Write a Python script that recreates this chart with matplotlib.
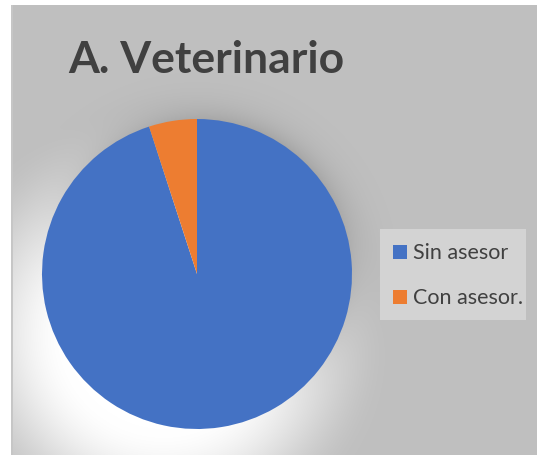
import numpy as np
import matplotlib
matplotlib.use("Agg")
import matplotlib.pyplot as plt
from matplotlib.patches import Rectangle

categories = ["Sin asesor", "Con asesor."]
values = [95, 5]
colors = ["#4472C4", "#ED7D31"]
title = "A. Veterinario"

W, H = 537, 456
fig = plt.figure(figsize=(W / 100, H / 100), dpi=100)
fig.patch.set_facecolor("white")

cx, cy, r = 197, 275, 155

# background with shadow / glow effect
bg = fig.add_axes([0, 0, 1, 1])
bg.set_xlim(0, W)
bg.set_ylim(H, 0)
bg.axis("off")
yy, xx = np.mgrid[0:H, 0:W] + 0.5
base = np.full((H, W), 192 / 255.0)
d = np.hypot(xx - cx, yy - cy)
dark = 0.11 * np.exp(-np.clip(d - r, 0, None) / 14.0)
dw = np.hypot(xx - 165, yy - 330)
t = np.clip((230 - dw) / 130.0, 0, 1)
w = t * t * (3 - 2 * t)
img = base - dark * (1 - w) + (1 - base) * w
img = np.clip(img, 0, 1)
rgb = np.dstack([img, img, img])
rgb[:6, :, :] = 1.0
rgb[:, :11, :] = 1.0
rgb[6:, 11:13, :] = 0.78
bg.imshow(rgb, extent=(0, W, H, 0), aspect="auto", interpolation="bilinear")

# pie
ax = fig.add_axes([(cx - r) / W, 1 - (cy + r) / H, 2 * r / W, 2 * r / H])
ax.pie(values, colors=colors, startangle=90, counterclock=False,
       wedgeprops=dict(linewidth=0))
ax.set_aspect("equal")
ax.set_xlim(-1, 1)
ax.set_ylim(-1, 1)

fig.text(68 / W, 1 - 60 / H, title, fontsize=32, fontweight="bold",
         color="#404040", family="Lato", va="center", ha="left")

# legend
lx0, ly0, lx1, ly1 = 380, 230, 526, 321
bg.add_patch(Rectangle((lx0, ly0), lx1 - lx0, ly1 - ly0, facecolor="#d3d3d3",
                       edgecolor="none", zorder=3))
for i, lab in enumerate(categories):
    yc = 253 + i * 45
    bg.add_patch(Rectangle((393, yc - 7), 14, 14, facecolor=colors[i],
                           edgecolor="none", zorder=4))
    bg.text(413, yc, lab, fontsize=15.5, color="#404040", family="Lato",
            va="center", ha="left", zorder=4)

fig.savefig("out.png", dpi=100)
